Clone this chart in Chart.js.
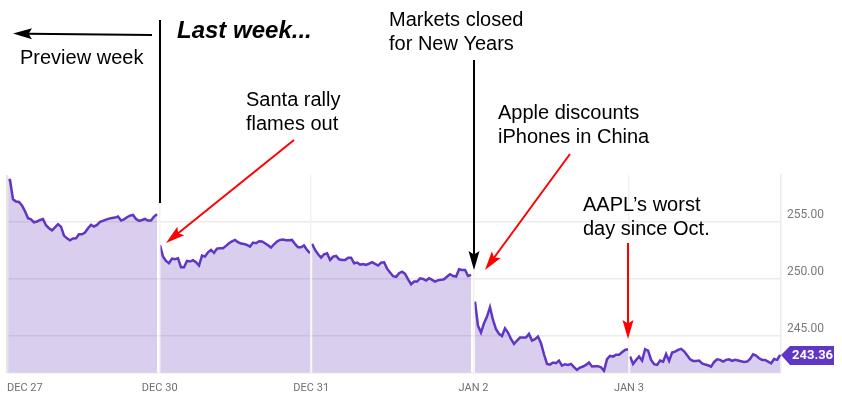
<!DOCTYPE html>
<html>
<head>
<meta charset="utf-8">
<title>AAPL last week</title>
<style>
  html, body { margin: 0; padding: 0; background: #fff; }
  canvas { display: block; }
</style>
<script src="https://cdn.jsdelivr.net/npm/chart.js@4/dist/chart.umd.js"></script>
</head>
<body>
<canvas id="chart" width="842" height="400"></canvas>
<script>
// Prices, one list per trading session
const dec27 = [258.65,258.65,256.96,256.76,256.73,256.41,255.91,255.30,255.21,254.95,255.01,255.15,255.24,254.69,254.43,254.25,254.51,254.78,254.57,253.79,253.55,253.38,253.53,253.55,253.90,253.90,254.05,254.43,254.72,254.57,254.72,254.98,255.07,255.18,255.27,255.33,255.36,255.45,255.10,255.21,255.39,255.53,255.59,255.24,255.07,255.15,255.24,255.10,255.10,255.45,255.65];
const dec30 = [252.97,251.96,251.58,251.37,251.78,251.72,251.81,251.02,251.02,251.58,251.52,251.64,251.46,251.17,252.04,251.96,252.33,252.54,252.28,252.65,252.68,252.68,252.89,253.12,253.29,253.41,253.21,253.09,253.06,252.97,252.83,253.18,253.12,253.29,253.27,253.12,252.94,252.74,253.03,253.27,253.41,253.44,253.38,253.38,253.41,253.06,252.77,252.77,252.92,252.54,252.25];
const dec31 = [253.06,252.53,252.16,251.86,252.16,252.24,251.66,251.95,252.01,251.72,251.66,251.66,251.86,251.86,251.37,251.43,251.25,251.31,251.22,251.34,251.46,251.31,251.17,251.43,251.46,250.90,250.56,250.24,250.18,250.50,250.64,250.44,249.97,249.54,249.77,249.77,250.06,250.00,249.86,250.06,249.92,249.77,249.89,249.92,249.97,250.21,250.41,250.26,250.21,250.85,250.79,250.79,250.26,250.35];
const jan2 = [248.02,245.90,245.32,246.13,246.71,247.53,246.42,245.61,245.20,245.02,245.69,245.32,244.76,244.33,244.62,244.88,244.88,244.88,245.20,244.62,244.73,244.97,244.38,243.42,242.58,242.52,242.70,242.64,242.87,242.43,242.55,242.49,242.58,242.29,242.06,242.26,242.35,242.49,242.70,242.35,242.38,242.38,242.29,241.97,242.99,243.28,243.22,243.37,243.37,243.60,243.80,243.86];
const jan3 = [243.22,242.58,242.93,243.22,242.87,243.86,243.74,242.93,242.55,242.49,242.87,242.78,243.45,242.84,243.57,243.65,243.80,243.89,243.68,243.33,242.98,242.84,242.84,242.87,242.63,242.52,242.46,242.34,242.75,242.98,242.93,242.78,242.93,242.98,242.84,242.93,242.87,242.81,242.75,242.78,243.01,243.42,243.30,243.07,242.93,242.93,242.78,242.63,243.01,242.93,243.36];

const sessions = [dec27, dec30, dec31, jan2, jan3];
const sessionStarts = [0, 51, 101.7, 156, 207.7];
const tickLabels = ['DEC 27', 'DEC 30', 'DEC 31', 'JAN 2', 'JAN 3'];
const tickBars = [0, 50.9, 101.4, 155.5, 207.3];
const priceTicks = [245, 250, 255];
const priceMin = 241.81;
const priceMax = 259.08;
const lastPrice = 243.36;

const LINE = '#6036c4';
const FILL = 'rgba(103, 58, 183, 0.25)';
const GRID = '#ebebeb';
const TEXT_FONT = '"Liberation Sans", Arial, sans-serif';

const notes = [
    { lines: ['Preview week'], x: 20, y: 58 },
    { lines: ['Santa rally', 'flames out'], x: 246, y: 100 },
    { lines: ['Markets closed', 'for New Years'], x: 389, y: 20 },
    { lines: ['Apple discounts', 'iPhones in China'], x: 498, y: 113 },
    { lines: ['AAPL\u2019s worst', 'day since Oct.'], x: 583, y: 205 }
];
const arrows = [
    { from: [152, 35], to: [13, 33.5], color: '#000' },
    { from: [474, 60], to: [474, 270], color: '#000' },
    { from: [294, 140], to: [166, 243], color: '#f00' },
    { from: [570, 154], to: [485, 270], color: '#f00' },
    { from: [628, 243], to: [628, 339], color: '#f00' }
];

function drawArrow(ctx, a) {
    const angle = Math.atan2(a.to[1] - a.from[1], a.to[0] - a.from[0]);
    const len = 19, half = 5.5;
    ctx.strokeStyle = a.color;
    ctx.fillStyle = a.color;
    ctx.lineWidth = 2;
    ctx.beginPath();
    ctx.moveTo(a.from[0], a.from[1]);
    ctx.lineTo(a.to[0] - Math.cos(angle) * len * 0.8, a.to[1] - Math.sin(angle) * len * 0.8);
    ctx.stroke();
    ctx.save();
    ctx.translate(a.to[0], a.to[1]);
    ctx.rotate(angle);
    ctx.beginPath();
    ctx.moveTo(0, 0);
    ctx.lineTo(-len, -half);
    ctx.lineTo(-len * 0.82, 0);
    ctx.lineTo(-len, half);
    ctx.closePath();
    ctx.fill();
    ctx.restore();
}

const annotations = {
    id: 'annotations',
    beforeDraw(chart) {
        // first label sits right of its tick, the others are centred
        const items = chart.scales.x.getLabelItems();
        if (items.length) items[0].options.textAlign = 'left';
    },
    afterDraw(chart) {
        const ctx = chart.ctx;
        ctx.save();

        // price tag on the axis
        const y = chart.scales.y.getPixelForValue(lastPrice);
        const left = chart.chartArea.right;
        ctx.fillStyle = LINE;
        ctx.beginPath();
        ctx.moveTo(left, y);
        ctx.lineTo(left + 9, y - 9);
        ctx.lineTo(left + 53, y - 9);
        ctx.lineTo(left + 53, y + 10);
        ctx.lineTo(left + 9, y + 10);
        ctx.closePath();
        ctx.fill();
        ctx.fillStyle = '#fff';
        ctx.font = 'bold 13px Roboto';
        ctx.textBaseline = 'middle';
        ctx.textAlign = 'left';
        ctx.fillText(lastPrice.toFixed(2), left + 11, y + 1);

        // black divider before the week
        ctx.strokeStyle = '#000';
        ctx.lineWidth = 2;
        ctx.beginPath();
        ctx.moveTo(160, 20);
        ctx.lineTo(160, 203);
        ctx.stroke();

        arrows.forEach(a => drawArrow(ctx, a));

        ctx.fillStyle = '#000';
        ctx.textBaseline = 'middle';
        ctx.font = '20px ' + TEXT_FONT;
        notes.forEach(n => n.lines.forEach((line, i) => ctx.fillText(line, n.x, n.y + i * 24)));
        ctx.font = 'italic bold 24px ' + TEXT_FONT;
        ctx.fillText('Last week...', 177, 31);
        ctx.restore();
    }
};

new Chart(document.getElementById('chart'), {
    type: 'line',
    data: {
        datasets: sessions.map((prices, s) => ({
            data: prices.map((price, i) => ({ x: sessionStarts[s] + i, y: price })),
            borderColor: LINE,
            backgroundColor: FILL,
            borderWidth: 2.5,
            pointRadius: 0,
            tension: 0,
            fill: 'start'
        }))
    },
    options: {
        responsive: false,
        animation: false,
        layout: { padding: { left: 7, top: 175, right: 0, bottom: 0 } },
        plugins: { legend: { display: false }, tooltip: { enabled: false } },
        scales: {
            x: {
                type: 'linear',
                min: 0,
                max: 258,
                afterBuildTicks: scale => { scale.ticks = tickBars.map(value => ({ value })); },
                afterFit: scale => { scale.height = 27.3; scale.paddingLeft = 0; scale.paddingRight = 0; },
                grid: {
                    color: ctx => (ctx.index === 0 ? '#e6e6e6' : '#f2f2f2'),
                    lineWidth: ctx => (ctx.index === 0 ? 2.5 : 1.5),
                    z: 1,
                    drawTicks: false
                },
                border: { display: false },
                ticks: {
                    autoSkip: false,
                    maxRotation: 0,
                    padding: 9,
                    color: '#707070',
                    font: { family: 'Roboto', size: 11 },
                    callback: (value, index) => tickLabels[index]
                }
            },
            y: {
                position: 'right',
                min: priceMin,
                max: priceMax,
                // the extra tick at the floor gives the base line of the plot
                afterBuildTicks: scale => { scale.ticks = [priceMin, ...priceTicks].map(value => ({ value })); },
                afterFit: scale => { scale.width = 61; },
                grid: { color: GRID, lineWidth: 1.5, drawTicks: false },
                border: { display: true, color: GRID, width: 1.5 },
                ticks: {
                    padding: 6,
                    labelOffset: -7,
                    color: '#7a7a7a',
                    font: { family: 'Roboto', size: 12 },
                    callback: value => (priceTicks.includes(value) ? value.toFixed(2) : '')
                }
            }
        }
    },
    plugins: [annotations]
});
</script>
</body>
</html>
